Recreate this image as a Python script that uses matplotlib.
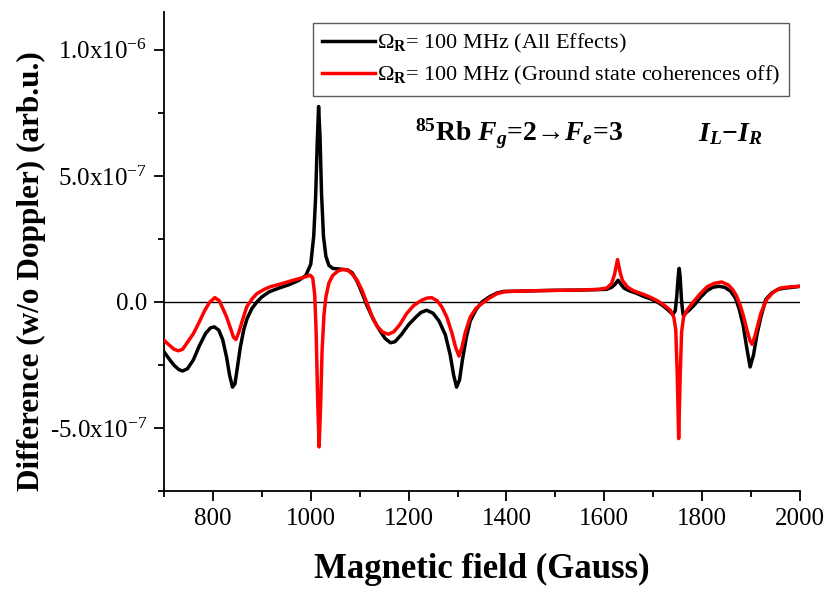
import matplotlib
matplotlib.use('Agg')
import matplotlib.pyplot as plt
from matplotlib.ticker import MultipleLocator, FixedLocator, FixedFormatter

plt.rcParams['font.family'] = ['Liberation Serif', 'DejaVu Serif']
plt.rcParams['mathtext.fontset'] = 'custom'
plt.rcParams['mathtext.rm'] = 'Liberation Serif'
plt.rcParams['mathtext.it'] = 'Liberation Serif:italic'
plt.rcParams['mathtext.bf'] = 'Liberation Serif:bold'
plt.rcParams['mathtext.bfit'] = 'Liberation Serif:bold:italic'

# field (Gauss) and signal (units of 1e-7) -- all effects
field_all = [700, 710, 720, 730, 738, 748, 760, 772, 785, 795, 803, 812, 820, 828, 834, 840,
             845, 850, 856, 863, 870, 880, 890, 900, 915, 935, 955, 975, 990, 1000, 1006,
             1010, 1013, 1016, 1019, 1022, 1026, 1031, 1037, 1045, 1060, 1075, 1085, 1095,
             1105, 1115, 1128, 1140, 1152, 1163, 1172, 1185, 1200, 1215, 1225, 1237, 1250,
             1262, 1275, 1285, 1292, 1298, 1304, 1310, 1318, 1326, 1338, 1350, 1365, 1380,
             1395, 1410, 1450, 1500, 1550, 1590, 1605, 1615, 1622, 1628, 1634, 1640, 1650,
             1665, 1680, 1695, 1708, 1720, 1732, 1740, 1745, 1748, 1751, 1753, 1755, 1758,
             1761, 1766, 1775, 1785, 1795, 1810, 1822, 1834, 1846, 1858, 1868, 1876, 1884,
             1891, 1898, 1905, 1912, 1920, 1930, 1942, 1955, 1970, 1985, 2000]
sig_all = [-1.98, -2.25, -2.5, -2.68, -2.74, -2.65, -2.3, -1.75, -1.25, -1.03, -0.99, -1.12,
           -1.5, -2.2, -2.9, -3.38, -3.25, -2.6, -1.8, -1.1, -0.65, -0.25, 0.0, 0.2, 0.4,
           0.55, 0.68, 0.85, 1.05, 1.5, 2.6, 4.2, 6.2, 7.75, 6.5, 4.3, 2.6, 1.8, 1.45, 1.33,
           1.3, 1.27, 1.15, 0.8, 0.35, -0.15, -0.7, -1.1, -1.45, -1.62, -1.58, -1.3, -0.9,
           -0.6, -0.42, -0.33, -0.45, -0.75, -1.3, -2.1, -2.9, -3.38, -3.1, -2.3, -1.4, -0.75,
           -0.3, 0.0, 0.2, 0.35, 0.42, 0.42, 0.44, 0.46, 0.47, 0.49, 0.5, 0.58, 0.7, 0.86,
           0.7, 0.55, 0.45, 0.35, 0.22, 0.12, 0.0, -0.15, -0.35, -0.5, -0.35, 0.2, 1.0, 1.33,
           1.0, 0.0, -0.5, -0.45, -0.3, -0.1, 0.15, 0.45, 0.58, 0.62, 0.58, 0.43, 0.15, -0.3,
           -0.95, -1.8, -2.58, -2.1, -1.3, -0.6, 0.1, 0.35, 0.5, 0.55, 0.58, 0.62]

# ground state coherences off
field_off = [700, 710, 720, 729, 738, 748, 760, 772, 783, 793, 804, 813, 820, 828, 836, 842,
             847, 853, 860, 869, 880, 890, 905, 917, 940, 964, 985, 999, 1004, 1008, 1011,
             1014, 1017, 1020, 1023, 1027, 1031, 1037, 1045, 1055, 1065, 1075, 1085, 1095,
             1105, 1115, 1125, 1135, 1147, 1159, 1170, 1182, 1196, 1210, 1225, 1237, 1247,
             1258, 1268, 1278, 1288, 1296, 1303, 1309, 1316, 1326, 1338, 1350, 1365, 1380,
             1395, 1410, 1450, 1500, 1550, 1590, 1605, 1615, 1621, 1627, 1632, 1637, 1648,
             1660, 1680, 1695, 1708, 1722, 1735, 1742, 1746, 1749, 1752, 1755, 1758, 1762,
             1770, 1782, 1795, 1810, 1825, 1840, 1853, 1862, 1870, 1878, 1885, 1892, 1898,
             1902, 1908, 1914, 1920, 1932, 1945, 1960, 1980, 2000]
sig_off = [-1.52, -1.7, -1.87, -1.94, -1.88, -1.6, -1.26, -0.8, -0.35, -0.02, 0.17, 0.05,
           -0.25, -0.6, -1.05, -1.4, -1.49, -1.2, -0.75, -0.2, 0.12, 0.33, 0.5, 0.6, 0.72,
           0.86, 0.97, 1.06, 0.95, 0.3, -1.2, -3.8, -5.75, -4.2, -2.0, -0.5, 0.2, 0.75, 1.05,
           1.22, 1.29, 1.27, 1.1, 0.85, 0.45, -0.05, -0.55, -0.95, -1.2, -1.28, -1.18, -0.9,
           -0.46, -0.15, 0.05, 0.15, 0.17, 0.05, -0.2, -0.6, -1.2, -1.8, -2.15, -1.8, -1.2,
           -0.6, -0.25, -0.06, 0.15, 0.32, 0.4, 0.42, 0.44, 0.46, 0.47, 0.5, 0.55, 0.73, 1.1,
           1.68, 1.2, 0.85, 0.58, 0.44, 0.3, 0.18, 0.05, -0.12, -0.33, -0.6, -1.1, -2.8,
           -5.42, -3.0, -1.2, -0.6, -0.3, 0.0, 0.3, 0.6, 0.74, 0.79, 0.68, 0.5, 0.25, -0.15,
           -0.6, -1.15, -1.55, -1.68, -1.35, -0.9, -0.45, 0.1, 0.38, 0.55, 0.6, 0.62]

ytick_vals = [-5e-7, 0.0, 5e-7, 1e-6]
ytick_text = ['-5.0x10$^{-7}$', '0.0', '5.0x10$^{-7}$', '1.0x10$^{-6}$']
label_all = r'$\Omega_{\mathbf{R}}$= 100 MHz (All Effects)'
label_off = r'$\Omega_{\mathbf{R}}$= 100 MHz (Ground state coherences off)'

fig = plt.figure(figsize=(8.3, 5.91), dpi=100)
ax = fig.add_axes([164 / 830, 1 - 491 / 591, 636 / 830, 479 / 591])

ax.axhline(0, color='black', lw=1.0, zorder=1)
ax.plot(field_all, [v * 1e-7 for v in sig_all], color='black', lw=2.5, label=label_all, zorder=3)
ax.plot(field_off, [v * 1e-7 for v in sig_off], color='red', lw=2.5, label=label_off, zorder=4)

ax.set_xlim(700, 2000)
ax.set_ylim(-7.5e-7, 1.15e-6)
ax.xaxis.set_major_locator(MultipleLocator(200))
ax.xaxis.set_minor_locator(MultipleLocator(100))
ax.yaxis.set_major_locator(FixedLocator(ytick_vals))
ax.yaxis.set_major_formatter(FixedFormatter(ytick_text))
ax.yaxis.set_minor_locator(MultipleLocator(2.5e-7))

for s in ['top', 'right']:
    ax.spines[s].set_visible(False)
for s in ['left', 'bottom']:
    ax.spines[s].set_linewidth(1.3)
ax.tick_params(which='major', direction='out', length=7, width=1.3, labelsize=18, pad=5)
ax.tick_params(which='minor', direction='out', length=4, width=1.3)

ax.set_xlabel('Magnetic field (Gauss)', fontsize=25, fontweight='bold', labelpad=17)
ax.set_ylabel('Difference (w/o Doppler) (arb.u.)', fontsize=22.5, fontweight='bold')
ax.yaxis.set_label_coords(-0.185, 0.46)

leg = fig.legend(loc='upper right', bbox_to_anchor=(789 / 830, 1 - 23 / 591), fontsize=16,
                 frameon=True, fancybox=False, edgecolor='#333333', handlelength=2.4,
                 handletextpad=0.1, borderpad=0.4, labelspacing=0.4, borderaxespad=0.0)
leg.get_frame().set_linewidth(1.0)

ax.text(0.395, 0.745, r'$^{\mathbf{85}}$Rb $\mathbfit{F}_{\mathbfit{g}}$=2→$\mathbfit{F}_{\mathbfit{e}}$=3',
        transform=ax.transAxes, fontsize=20, fontweight='bold', ha='left', va='center')
ax.text(0.84, 0.745, r'$\mathbfit{I}_{\mathbfit{L}}\mathbf{-}\mathbfit{I}_{\mathbfit{R}}$',
        transform=ax.transAxes, fontsize=20, ha='left', va='center')

fig.savefig('out.png', dpi=100)
